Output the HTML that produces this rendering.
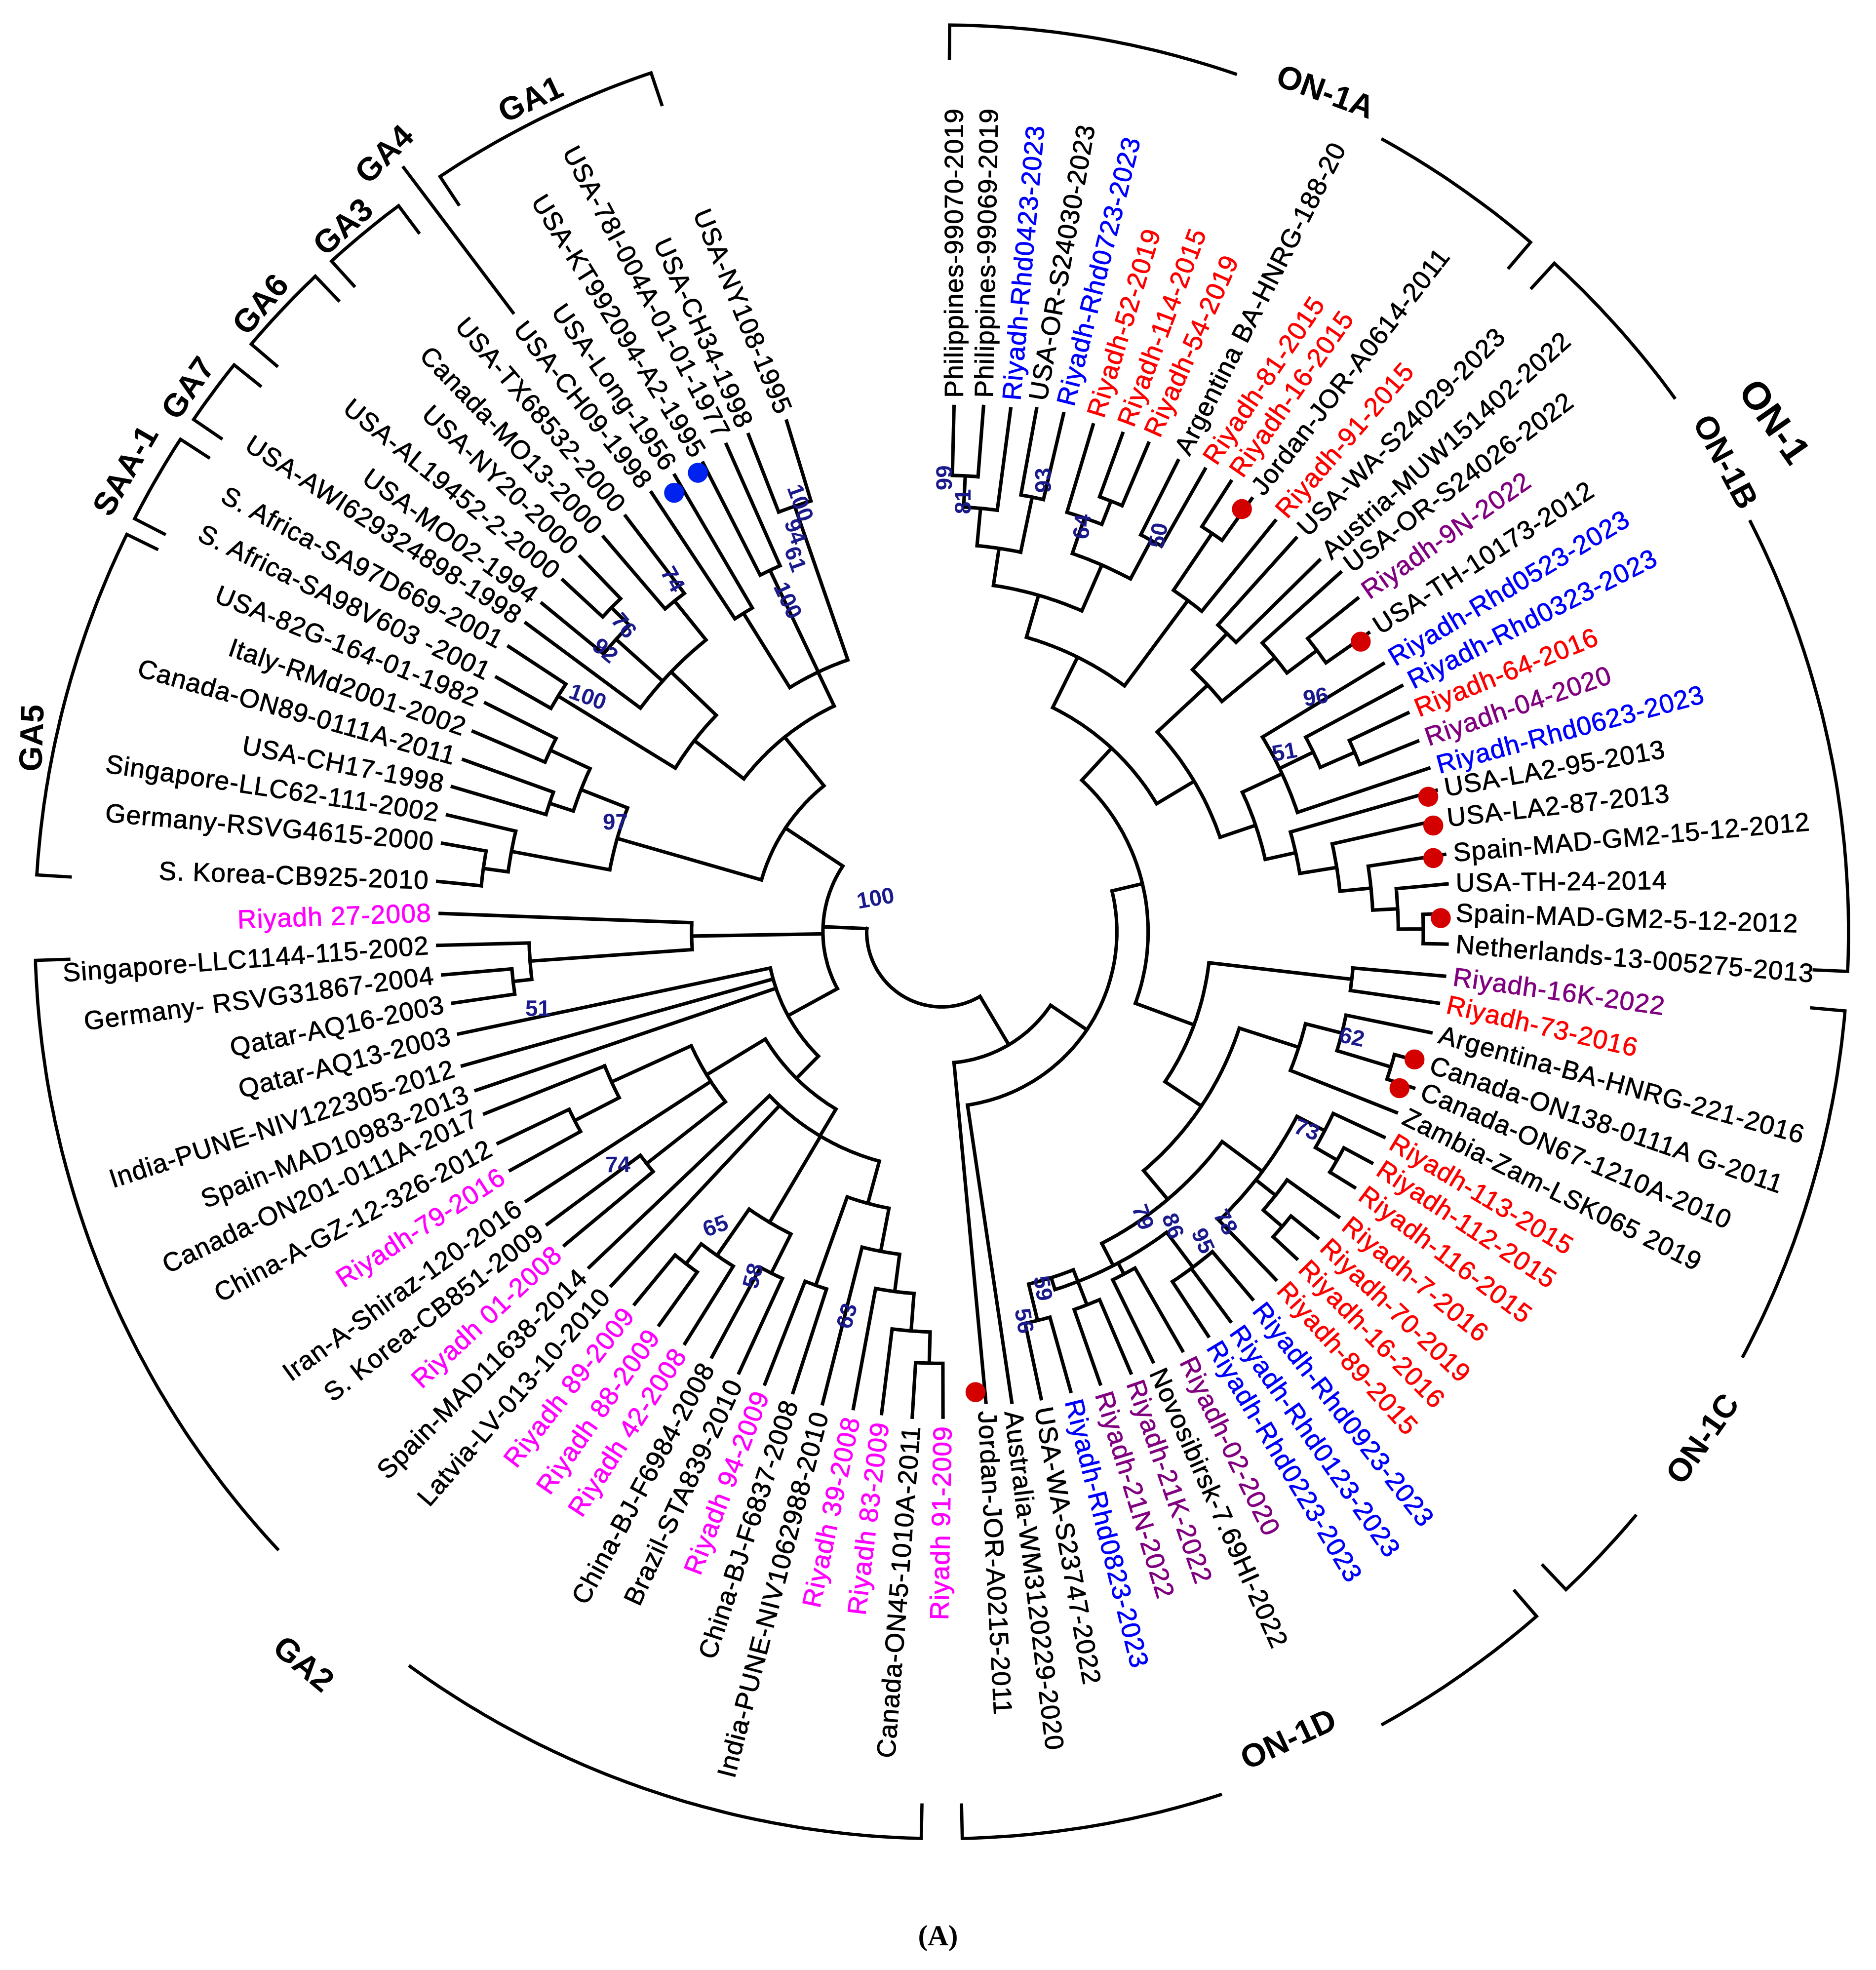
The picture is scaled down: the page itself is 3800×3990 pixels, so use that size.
<!DOCTYPE html>
<html><head><meta charset="utf-8"><style>
html,body{margin:0;padding:0;background:#fff}
svg{display:block}
text{font-family:"Liberation Sans",Arial,sans-serif}
.L{font-size:21px;letter-spacing:0.5px;dominant-baseline:central;stroke-width:0.35px}
.s{text-anchor:start}.e{text-anchor:end}
.k{fill:#000;stroke:#000}.r{fill:#ff0000;stroke:#ff0000}.b{fill:#0000ff;stroke:#0000ff}.p{fill:#800080;stroke:#800080}.m{fill:#ff00ff;stroke:#ff00ff}
.n{font-size:18px;font-weight:bold;fill:#1a1a8c;text-anchor:middle;dominant-baseline:central}
.c{font-size:26px;font-weight:bold;fill:#000;text-anchor:middle;dominant-baseline:central}
</style></head><body>
<svg id="S" width="3800" height="3990" viewBox="0 0 1500 1575" preserveAspectRatio="none" xmlns="http://www.w3.org/2000/svg">
<rect width="1500" height="1575" fill="#fff"/>
<g id="tree" fill="none" stroke="#000" stroke-width="2.8" stroke-linecap="square"></g>
<g id="brk" fill="none" stroke="#000" stroke-width="2.6"></g>
<g id="labels">
<text class="L s k" x="763" y="318" transform="rotate(-90 763 318)">Philippines-99070-2019</text>
<text class="L s k" x="787" y="318" transform="rotate(-89 787 318)">Philippines-99069-2019</text>
<text class="L s b" x="809" y="320" transform="rotate(-85 809 320)">Riyadh-Rhd0423-2023</text>
<text class="L s k" x="830" y="320" transform="rotate(-80 830 320)">USA-OR-S24030-2023</text>
<text class="L s b" x="852" y="324" transform="rotate(-76 852 324)">Riyadh-Rhd0723-2023</text>
<text class="L s r" x="876" y="333" transform="rotate(-73 876 333)">Riyadh-52-2019</text>
<text class="L s r" x="900" y="340" transform="rotate(-69.5 900 340)">Riyadh-114-2015</text>
<text class="L s r" x="921" y="348" transform="rotate(-66 921 348)">Riyadh-54-2019</text>
<text class="L s k" x="945" y="362" transform="rotate(-63 945 362)">Argentina BA-HNRG-188-20</text>
<text class="L s r" x="967" y="369" transform="rotate(-56 967 369)">Riyadh-81-2015</text>
<text class="L s r" x="988" y="379" transform="rotate(-55 988 379)">Riyadh-16-2015</text>
<text class="L s k" x="1005" y="393" transform="rotate(-52 1005 393)">Jordan-JOR-A0614-2011</text>
<text class="L s r" x="1024" y="411" transform="rotate(-49 1024 411)">Riyadh-91-2015</text>
<text class="L s k" x="1041" y="425" transform="rotate(-45 1041 425)">USA-WA-S24029-2023</text>
<text class="L s k" x="1060" y="443" transform="rotate(-42 1060 443)">Austria-MUW151402-2022</text>
<text class="L s k" x="1077" y="453" transform="rotate(-37 1077 453)">USA-OR-S24026-2022</text>
<text class="L s p" x="1091" y="474" transform="rotate(-35 1091 474)">Riyadh-9N-2022</text>
<text class="L s k" x="1100" y="502" transform="rotate(-33 1100 502)">USA-TH-10173-2012</text>
<text class="L s b" x="1112" y="527" transform="rotate(-31 1112 527)">Riyadh-Rhd0523-2023</text>
<text class="L s b" x="1127" y="545" transform="rotate(-27 1127 545)">Riyadh-Rhd0323-2023</text>
<text class="L s r" x="1132" y="567" transform="rotate(-22 1132 567)">Riyadh-64-2016</text>
<text class="L s p" x="1140" y="590" transform="rotate(-19 1140 590)">Riyadh-04-2020</text>
<text class="L s b" x="1149" y="612" transform="rotate(-15 1149 612)">Riyadh-Rhd0623-2023</text>
<text class="L s k" x="1155" y="630" transform="rotate(-10 1155 630)">USA-LA2-95-2013</text>
<text class="L s k" x="1157" y="654" transform="rotate(-6.3 1157 654)">USA-LA2-87-2013</text>
<text class="L s k" x="1162" y="682" transform="rotate(-5 1162 682)">Spain-MAD-GM2-15-12-2012</text>
<text class="L s k" x="1164" y="706" transform="rotate(-0.7 1164 706)">USA-TH-24-2014</text>
<text class="L s k" x="1164" y="730" transform="rotate(1.8 1164 730)">Spain-MAD-GM2-5-12-2012</text>
<text class="L s k" x="1164" y="755" transform="rotate(4.7 1164 755)">Netherlands-13-005275-2013</text>
<text class="L s p" x="1162" y="781" transform="rotate(8 1162 781)">Riyadh-16K-2022</text>
<text class="L s r" x="1157" y="803" transform="rotate(13 1157 803)">Riyadh-73-2016</text>
<text class="L s k" x="1151" y="827" transform="rotate(15.5 1151 827)">Argentina-BA-HNRG-221-2016</text>
<text class="L s k" x="1144" y="851" transform="rotate(19 1144 851)">Canada-ON138-0111A G-2011</text>
<text class="L s k" x="1137" y="872" transform="rotate(23 1137 872)">Canada-ON67-1210A-2010</text>
<text class="L s k" x="1123" y="892" transform="rotate(26.6 1123 892)">Zambia-Zam-LSK065 2019</text>
<text class="L s r" x="1113" y="912" transform="rotate(31 1113 912)">Riyadh-113-2015</text>
<text class="L s r" x="1103" y="933" transform="rotate(33.5 1103 933)">Riyadh-112-2015</text>
<text class="L s r" x="1089" y="953" transform="rotate(37 1089 953)">Riyadh-116-2015</text>
<text class="L s r" x="1076" y="977" transform="rotate(39.5 1076 977)">Riyadh-7-2016</text>
<text class="L s r" x="1059" y="994" transform="rotate(43.5 1059 994)">Riyadh-70-2019</text>
<text class="L s r" x="1042" y="1011" transform="rotate(45.5 1042 1011)">Riyadh-16-2016</text>
<text class="L s r" x="1025" y="1028" transform="rotate(48 1025 1028)">Riyadh-89-2015</text>
<text class="L s b" x="1006" y="1044" transform="rotate(52 1006 1044)">Riyadh-Rhd0923-2023</text>
<text class="L s b" x="988" y="1062" transform="rotate(55 988 1062)">Riyadh-Rhd0123-2023</text>
<text class="L s b" x="970" y="1074" transform="rotate(59 970 1074)">Riyadh-Rhd0223-2023</text>
<text class="L s p" x="949" y="1086" transform="rotate(64 949 1086)">Riyadh-02-2020</text>
<text class="L s k" x="925" y="1095" transform="rotate(66 925 1095)">Novosibirsk-7.69HI-2022</text>
<text class="L s p" x="907" y="1104" transform="rotate(71 907 1104)">Riyadh-21K-2022</text>
<text class="L s p" x="882" y="1113" transform="rotate(73 882 1113)">Riyadh-21N-2022</text>
<text class="L s b" x="858" y="1119" transform="rotate(76 858 1119)">Riyadh-Rhd0823-2023</text>
<text class="L s k" x="834" y="1125" transform="rotate(80 834 1125)">USA-WA-S23747-2022</text>
<text class="L s k" x="810" y="1128" transform="rotate(83 810 1128)">Australia-WM3120229-2020</text>
<text class="L s k" x="789" y="1128" transform="rotate(87 789 1128)">Jordan-JOR-A0215-2011</text>
<text class="L e m" x="754" y="1140" transform="rotate(-89 754 1140)">Riyadh 91-2009</text>
<text class="L e k" x="729" y="1140" transform="rotate(-85.6 729 1140)">Canada-ON45-1010A-2011</text>
<text class="L e m" x="704" y="1137" transform="rotate(-83 704 1137)">Riyadh 83-2009</text>
<text class="L e m" x="681" y="1133" transform="rotate(-78 681 1133)">Riyadh 39-2008</text>
<text class="L e k" x="656" y="1129" transform="rotate(-75.5 656 1129)">India-PUNE-NIV1062988-2010</text>
<text class="L e k" x="632" y="1120" transform="rotate(-72 632 1120)">China-BJ-F6837-2008</text>
<text class="L e m" x="609" y="1113" transform="rotate(-69 609 1113)">Riyadh 94-2009</text>
<text class="L e k" x="588" y="1104" transform="rotate(-65 588 1104)">Brazil-STA839-2010</text>
<text class="L e k" x="566" y="1091" transform="rotate(-61.5 566 1091)">China-BJ-F6984-2008</text>
<text class="L e m" x="544" y="1080" transform="rotate(-57 544 1080)">Riyadh 42-2008</text>
<text class="L e m" x="523" y="1065" transform="rotate(-55 523 1065)">Riyadh 88-2009</text>
<text class="L e m" x="503" y="1048" transform="rotate(-52 503 1048)">Riyadh 89-2009</text>
<text class="L e k" x="484" y="1033" transform="rotate(-49 484 1033)">Latvia-LV-013-10-2010</text>
<text class="L e k" x="466" y="1018" transform="rotate(-45 466 1018)">Spain-MAD11638-2014</text>
<text class="L e m" x="446" y="1000" transform="rotate(-43 446 1000)">Riyadh 01-2008</text>
<text class="L e k" x="432" y="983" transform="rotate(-38 432 983)">S. Korea-CB851-2009</text>
<text class="L e k" x="415" y="964" transform="rotate(-36 415 964)">Iran-A-Shiraz-120-2016</text>
<text class="L e m" x="402" y="939" transform="rotate(-33 402 939)">Riyadh-79-2016</text>
<text class="L e k" x="392" y="917" transform="rotate(-28.4 392 917)">China-A-GZ-12-326-2012</text>
<text class="L e k" x="381" y="893" transform="rotate(-25.5 381 893)">Canada-ON201-0111A-2017</text>
<text class="L e k" x="374" y="874" transform="rotate(-22 374 874)">Spain-MAD10983-2013</text>
<text class="L e k" x="363" y="854" transform="rotate(-18 363 854)">India-PUNE-NIV122305-2012</text>
<text class="L e k" x="360" y="828" transform="rotate(-14.4 360 828)">Qatar-AQ13-2003</text>
<text class="L e k" x="355" y="803" transform="rotate(-11.6 355 803)">Qatar-AQ16-2003</text>
<text class="L e k" x="347" y="780" transform="rotate(-7.5 347 780)">Germany- RSVG31867-2004</text>
<text class="L e k" x="343" y="756" transform="rotate(-4.3 343 756)">Singapore-LLC1144-115-2002</text>
<text class="L e m" x="345" y="730" transform="rotate(-2 345 730)">Riyadh 27-2008</text>
<text class="L e k" x="343" y="704" transform="rotate(2 343 704)">S. Korea-CB925-2010</text>
<text class="L e k" x="347" y="673" transform="rotate(5 347 673)">Germany-RSVG4615-2000</text>
<text class="L e k" x="351" y="650" transform="rotate(8.4 351 650)">Singapore-LLC62-111-2002</text>
<text class="L e k" x="355" y="627" transform="rotate(11 355 627)">USA-CH17-1998</text>
<text class="L e k" x="364" y="605" transform="rotate(15.7 364 605)">Canada-ON89-0111A-2011</text>
<text class="L e k" x="372" y="582" transform="rotate(19 372 582)">Italy-RMd2001-2002</text>
<text class="L e k" x="382" y="559" transform="rotate(22 382 559)">USA-82G-164-01-1982</text>
<text class="L e k" x="391" y="538" transform="rotate(26 391 538)">S. Africa-SA98V603 -2001</text>
<text class="L e k" x="401" y="513" transform="rotate(28 401 513)">S. Africa-SA97D669-2001</text>
<text class="L e k" x="415" y="494" transform="rotate(33 415 494)">USA-AWI629324898-1998</text>
<text class="L e k" x="428" y="478" transform="rotate(36 428 478)">USA-MO02-1994</text>
<text class="L e k" x="445" y="459" transform="rotate(39 445 459)">USA-AL19452-2-2000</text>
<text class="L e k" x="459" y="440" transform="rotate(43.5 459 440)">USA-NY20-2000</text>
<text class="L e k" x="478" y="424" transform="rotate(46 478 424)">Canada-MO13-2000</text>
<text class="L e k" x="496" y="407" transform="rotate(49.6 496 407)">USA-TX68532-2000</text>
<text class="L e k" x="517" y="388" transform="rotate(51.6 517 388)">USA-CH09-1998</text>
<text class="L e k" x="536" y="374" transform="rotate(55 536 374)">USA-Long-1956</text>
<text class="L e k" x="559" y="364" transform="rotate(58 559 364)">USA-KT992094-A2-1995</text>
<text class="L e k" x="578" y="349" transform="rotate(62 578 349)">USA-78I-004A-01-01-1977</text>
<text class="L e k" x="596" y="341" transform="rotate(65.7 596 341)">USA-CH34-1998</text>
<text class="L e k" x="627" y="330" transform="rotate(67.6 627 330)">USA-NY108-1995</text>
</g>
<g id="boot">
<text class="n" x="700" y="718" transform="rotate(-10 700 718)">100</text>
<text class="n" x="538" y="463" transform="rotate(60 538 463)">74</text>
<text class="n" x="499" y="500" transform="rotate(50 499 500)">76</text>
<text class="n" x="484" y="520" transform="rotate(40 484 520)">92</text>
<text class="n" x="470" y="557" transform="rotate(20 470 557)">100</text>
<text class="n" x="492" y="657">97</text>
<text class="n" x="640" y="402" transform="rotate(70 640 402)">100</text>
<text class="n" x="636" y="425" transform="rotate(70 636 425)">94</text>
<text class="n" x="636" y="447" transform="rotate(70 636 447)">61</text>
<text class="n" x="630" y="480" transform="rotate(65 630 480)">100</text>
<text class="n" x="430" y="806">51</text>
<text class="n" x="494" y="931">74</text>
<text class="n" x="572" y="980" transform="rotate(-20 572 980)">65</text>
<text class="n" x="602" y="1020" transform="rotate(-75 602 1020)">58</text>
<text class="n" x="677" y="1052" transform="rotate(-75 677 1052)">63</text>
<text class="n" x="755" y="382" transform="rotate(-90 755 382)">99</text>
<text class="n" x="770" y="401" transform="rotate(-90 770 401)">81</text>
<text class="n" x="834" y="384" transform="rotate(-90 834 384)">93</text>
<text class="n" x="865" y="421" transform="rotate(-85 865 421)">64</text>
<text class="n" x="926" y="428" transform="rotate(-80 926 428)">50</text>
<text class="n" x="1052" y="557" transform="rotate(-10 1052 557)">96</text>
<text class="n" x="1027" y="601" transform="rotate(-10 1027 601)">51</text>
<text class="n" x="1081" y="829" transform="rotate(12 1081 829)">62</text>
<text class="n" x="1045" y="903" transform="rotate(20 1045 903)">73</text>
<text class="n" x="914" y="973" transform="rotate(70 914 973)">79</text>
<text class="n" x="938" y="980" transform="rotate(70 938 980)">86</text>
<text class="n" x="962" y="992" transform="rotate(65 962 992)">95</text>
<text class="n" x="980" y="977" transform="rotate(60 980 977)">78</text>
<text class="n" x="834" y="1030" transform="rotate(80 834 1030)">59</text>
<text class="n" x="819" y="1056" transform="rotate(80 819 1056)">56</text>
</g>
<g id="dots" fill="#d40000">
<circle cx="993" cy="407" r="8"/><circle cx="1088" cy="513" r="8"/>
<circle cx="1142" cy="637" r="8"/><circle cx="1146" cy="660" r="8"/>
<circle cx="1146" cy="686" r="8"/><circle cx="1152" cy="734" r="8"/>
<circle cx="1131" cy="847" r="8"/><circle cx="1119" cy="870" r="8"/>
<circle cx="780" cy="1113" r="8"/>
<circle cx="539" cy="394" r="8" fill="#0022ee"/><circle cx="558" cy="378" r="8" fill="#0022ee"/>
</g>
<g id="clades">
<text class="c" x="424" y="79" transform="rotate(-25 424 79)">GA1</text>
<text class="c" x="307" y="123" transform="rotate(-45 307 123)">GA4</text>
<text class="c" x="274" y="181" transform="rotate(-42 274 181)">GA3</text>
<text class="c" x="208" y="243" transform="rotate(-50 208 243)">GA6</text>
<text class="c" x="150" y="310" transform="rotate(-55 150 310)">GA7</text>
<text class="c" x="100" y="376" transform="rotate(-60 100 376)">SAA-1</text>
<text class="c" x="25" y="590" transform="rotate(-88 25 590)">GA5</text>
<text class="c" x="243" y="1330" transform="rotate(40 243 1330)">GA2</text>
<text class="c" x="1060" y="73" transform="rotate(20 1060 73)">ON-1A</text>
<text class="c" x="1419" y="337" transform="rotate(55 1419 337)" style="font-size:31px">ON-1</text>
<text class="c" x="1380" y="369" transform="rotate(62 1380 369)">ON-1B</text>
<text class="c" x="1361" y="1150" transform="rotate(-55 1361 1150)">ON-1C</text>
<text class="c" x="1030" y="1390" transform="rotate(-25 1030 1390)">ON-1D</text>
</g>
<text x="750" y="1555" text-anchor="middle" style="font-family:'Liberation Serif',serif;font-size:23px;font-weight:bold">(A)</text>
</svg>
<script>
(function(){
var C=[753,745];
var T=[].slice.call(document.querySelectorAll('#labels text'));
var leaf=T.map(function(t){var x=+t.getAttribute('x'),y=+t.getAttribute('y');var a=Math.atan2(y-C[1],x-C[0])*180/Math.PI;if(a<-95)a+=360;return {a:a,r:Math.hypot(x-C[0],y-C[1])-7};});
function P(r,a){var t=a*Math.PI/180;return (C[0]+r*Math.cos(t)).toFixed(1)+','+(C[1]+r*Math.sin(t)).toFixed(1);}
function arc(r,a1,a2){var s='M'+P(r,a1);for(var a=a1+0.5;a<a2;a+=0.5)s+='L'+P(r,a);s+='L'+P(r,a2);return s;}
var d='';
function walk(n){if(typeof n==='number')return leaf[n];var r=n[0];var ch=n.slice(1).map(walk);var as=ch.map(function(c){return c.a;});var mn=Math.min.apply(null,as),mx=Math.max.apply(null,as);d+=arc(r,mn,mx);ch.forEach(function(c){d+='M'+P(r,c.a)+'L'+P(c.r,c.a);});return {a:(mn+mx)/2,r:r};}
var gA=[245,[280,[310,[340,[365,0,1],2],[355,3,4]],[320,[350,5,[370,6,7]],[355,8,9]]],[330,[385,10,11],12]];
var gB=[235,[290,[330,13,14],[345,15,[375,16,17]]],[265,[300,18,[330,19,[360,20,21]],22],[290,23,[320,24,[345,25,[365,26,[385,27,28]]]]]]];
var Top=[200,gA,gB];
var Bot=[215,[330,29,30],[250,[300,[330,31,[375,32,33]],34],[280,[320,[345,35,[365,36,37]],[340,38,[360,39,40]],41],[300,[335,42,43,44],[310,45,46],[290,[320,47,48],[320,49,50]]]]]];
var ONroot=[105,[140,[165,Top,Bot],51],52];
var g1=[290,[320,[345,53,54],55],56];
var g2=[260,g1,57];
var g3=[300,58,59];
var g4=[270,[305,60,61],[315,62,[335,63,64]]];
var gB1=[190,[225,g2,g3],g4,65,66];
var gB2=[220,[300,67,68],69,[290,[330,70,71],72]];
var Gbot=[140,[165,gB1,gB2],73,74,75];
var Gmid=[200,79,[330,78,[345,77,76]]];
var GA5=[270,[350,[370,80,81],82],[310,[330,83,84],[345,85,86]]];
var SA=[250,[360,87,88],[300,89,[350,90,[370,91,92]],[340,93,94]]];
var GA1=[230,[300,95,96],[320,97,98],[360,99,100]];
var Gtop=[150,GA5,[200,SA,GA1]];
var GA=[95,Gbot,Gmid,Gtop];
walk([60,ONroot,GA]);
var NS='http://www.w3.org/2000/svg';
var p=document.createElementNS(NS,'path');p.setAttribute('d',d);document.getElementById('tree').appendChild(p);
var R=725,tk=28,bd='';
function br(a1,a2,g1,g2){bd+='M'+P(R-tk,a1)+'L'+P(R,a1);if(g1!==undefined){bd+=arc(R,a1,g1).replace(/^M/,'L')+arc(R,g2,a2);}else{bd+=arc(R,a1,a2).replace(/^M/,'L');}bd+='L'+P(R-tk,a2);}
br(-89.5,-49.5,-71,-61);
br(-47.5,2.5,-36,-27);
br(5,46.5,28,40);
br(49,88.7,61,72);
br(91.3,178.2,126,137);
br(183.6,206);
br(207.1,212.9);
br(214.4,218.7);
br(220.4,226.3);
br(227.7,233.2);
br(236.4,251.3);
bd+='M322,133L411,251';
var q=document.createElementNS(NS,'path');q.setAttribute('d',bd);document.getElementById('brk').appendChild(q);
})();
</script>
</body></html>
